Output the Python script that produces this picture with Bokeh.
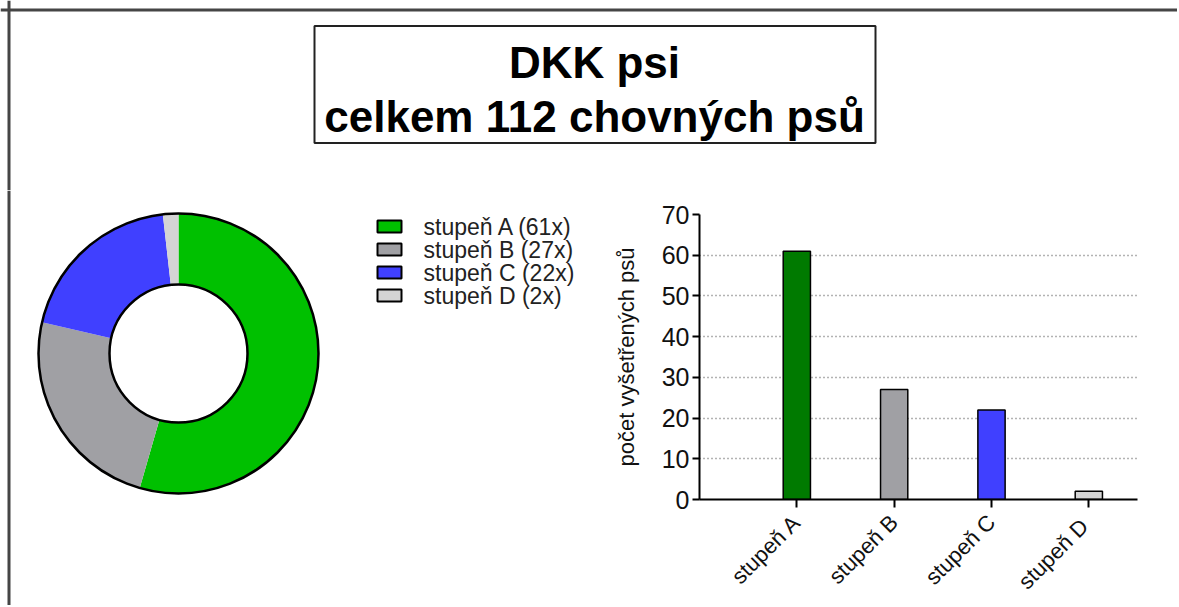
import numpy as np
from bokeh.plotting import figure
from bokeh.layouts import column, row
from bokeh.models import Range1d, FixedTicker, SingleIntervalTicker, ColumnDataSource, Plot, Span
from bokeh.core.properties import value
from bokeh.embed import file_html
from bokeh.resources import INLINE

# ---------------- data ----------------
title_lines = ["DKK psi", "celkem 112 chovných psů"]
categories = ["A", "B", "C", "D"]
counts = [61, 27, 22, 2]
legend_labels = ["stupeň A (61x)", "stupeň B (27x)", "stupeň C (22x)", "stupeň D (2x)"]
bar_labels = ["stupeň A", "stupeň B", "stupeň C", "stupeň  D"]
pie_colors = ["#00C000", "#A0A0A4", "#4040FF", "#D4D4D4"]
bar_colors = ["#007A00", "#A0A0A4", "#4040FF", "#D4D4D4"]
y_label = "počet vyšetřených psů"
y_ticks_interval = 10
y_max = 70

FONT = "Liberation Sans"
W = 1177
TH = 190
BH = 415
PW = 600
BW = W - PW
HAS_FA = "frame_align" in Plot.properties()
BORDER = "#454545"


def bare(fig):
    fig.xgrid.visible = False
    fig.ygrid.visible = False
    fig.outline_line_color = None
    fig.min_border = 0
    fig.min_border_left = 0
    fig.min_border_right = 0
    fig.min_border_top = 0
    fig.min_border_bottom = 0
    fig.background_fill_color = "white"
    fig.border_fill_color = "white"
    if HAS_FA:
        fig.frame_align = False


# ---------------- title figure ----------------
pt = figure(width=W, height=TH, x_range=Range1d(0, W), y_range=Range1d(TH, 0),
            output_backend="svg", toolbar_location=None,
            x_axis_location=None, y_axis_location=None)
bare(pt)
pt.add_layout(Span(location=9.5, dimension="width", line_color=BORDER, line_width=3))
pt.add_layout(Span(location=8.5, dimension="height", line_color=BORDER, line_width=3))
pt.quad(left=[314], right=[875], top=[25.5], bottom=[142.5], fill_color="white",
        line_color="#222222", line_width=2)
pt.text(x=[594, 594], y=[62, 116], text=title_lines, text_align="center",
        text_baseline="alphabetic", text_font=value(FONT), text_font_size="44px",
        text_font_style="bold", text_color="black")

# ---------------- donut figure ----------------
pp = figure(width=PW, height=BH, x_range=Range1d(0, PW), y_range=Range1d(0, BH),
            output_backend="svg", toolbar_location=None,
            x_axis_location=None, y_axis_location=None)
bare(pp)
pp.add_layout(Span(location=8.5, dimension="height", line_color=BORDER, line_width=3))

total = float(sum(counts))
cum = np.cumsum([0] + counts)
start = np.pi / 2 - 2 * np.pi * cum[:-1] / total
end = np.pi / 2 - 2 * np.pi * cum[1:] / total
cx, cy, r_out, r_in = 178, 252, 140, 69
src = ColumnDataSource(dict(start=start, end=end, color=pie_colors))
pp.annular_wedge(x=cx, y=cy, inner_radius=r_in, outer_radius=r_out,
                 start_angle="start", end_angle="end", direction="clock",
                 fill_color="color", line_color=None, source=src)
pp.circle(x=[cx], y=[cy], radius=r_out, fill_color=None, line_color="black", line_width=2.5)
pp.circle(x=[cx], y=[cy], radius=r_in, fill_color="white", line_color="black", line_width=2.5)

# legend (manual)
n = len(legend_labels)
ly = [379 - 23 * i for i in range(n)]
pp.rect(x=[389] * n, y=ly, width=24, height=12, fill_color=pie_colors,
        line_color="black", line_width=2)
pp.text(x=[423] * n, y=ly, text=legend_labels, text_baseline="middle",
        text_font=value(FONT), text_font_size="23px", text_color="#222222")

# ---------------- bar figure ----------------
xs = list(range(1, len(categories) + 1))
pb = figure(width=BW, height=BH, x_range=Range1d(0, len(categories) + 0.5),
            y_range=Range1d(0, y_max), output_backend="svg", toolbar_location=None)
pb.min_border_left = 99
pb.min_border_right = 40
pb.min_border_top = 24
pb.min_border_bottom = 99
pb.outline_line_color = None
pb.xgrid.visible = False
pb.ygrid.grid_line_color = "#666666"
pb.ygrid.grid_line_dash = "1 3"
pb.ygrid.grid_line_width = 1.4
if HAS_FA:
    pb.frame_align = False

pb.vbar(x=xs, top=counts, width=0.28, fill_color=bar_colors,
        line_color="black", line_width=1.5)

ya = pb.yaxis[0]
ya.ticker = SingleIntervalTicker(interval=y_ticks_interval)
ya.minor_tick_line_color = None
ya.major_tick_in = 0
ya.major_tick_out = 7
ya.axis_line_width = 2
ya.major_tick_line_width = 2
ya.major_label_text_font = FONT
ya.major_label_text_font_size = "25px"
ya.major_label_text_color = "#111111"
ya.major_label_standoff = 3
ya.axis_label = y_label
ya.axis_label_text_font = FONT
ya.axis_label_text_font_size = "22px"
ya.axis_label_text_font_style = "normal"
ya.axis_label_text_color = "#111111"
ya.axis_label_standoff = 20

xa = pb.xaxis[0]
xa.ticker = FixedTicker(ticks=xs)
xa.major_label_overrides = {x: lab for x, lab in zip(xs, bar_labels)}
xa.minor_tick_line_color = None
xa.major_tick_in = 0
xa.major_tick_out = 8
xa.axis_line_width = 2
xa.major_tick_line_width = 2
xa.major_label_orientation = np.pi / 4
xa.major_label_text_font = FONT
xa.major_label_text_font_size = "22px"
xa.major_label_text_color = "#111111"
xa.major_label_standoff = 11

layout = column(pt, row(pp, pb, spacing=0), spacing=0)

with open("out.html", "w") as f:
    f.write(file_html(layout, INLINE))
